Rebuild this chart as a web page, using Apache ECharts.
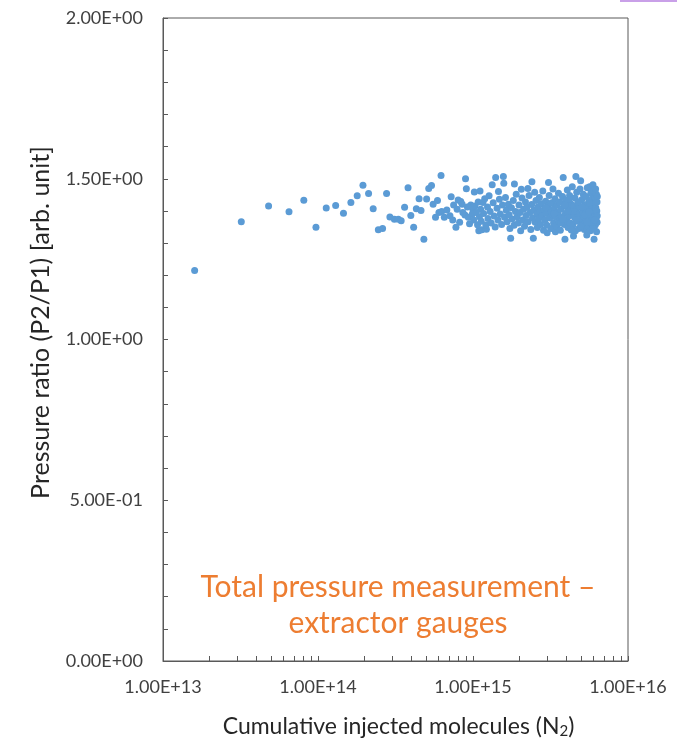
<!DOCTYPE html>
<html>
<head>
<meta charset="utf-8">
<script src="https://cdn.jsdelivr.net/npm/echarts@6/dist/echarts.min.js"></script>
<style>
html,body{margin:0;padding:0;background:#fff;}
#chart{width:677px;height:738px;}
</style>
</head>
<body>
<div id="chart"></div>
<script>
// Sparse / readable points: [cumulative injected molecules, pressure ratio]
const pointsSparse = [
  [1.6e13,1.215],[3.2e13,1.366],[4.8e13,1.415],[6.5e13,1.397],[8.1e13,1.433],[9.7e13,1.349],[1.13e14,1.409],[1.30e14,1.417],[1.46e14,1.393],[1.63e14,1.426],
  [1.79e14,1.447],[1.95e14,1.480],[2.12e14,1.454],[2.27e14,1.407],[2.45e14,1.341],[2.61e14,1.345],[2.77e14,1.454],[2.91e14,1.381],[3.11e14,1.374],[3.30e14,1.374],
  [3.44e14,1.369],[3.62e14,1.411],[3.81e14,1.472],[3.97e14,1.386],[4.14e14,1.349],[4.31e14,1.407],[4.49e14,1.438],[4.62e14,1.401],[4.82e14,1.312],[5.02e14,1.437],
  [5.18e14,1.470],[5.40e14,1.479],[5.53e14,1.421],[5.73e14,1.380],[5.90e14,1.432],[6.22e14,1.510],[6.03e14,1.395],[6.28e14,1.398],[6.53e14,1.380],[6.78e14,1.403],
  [7.23e14,1.444],[7.50e14,1.418],[7.76e14,1.349],[8.02e14,1.434],[8.34e14,1.429],[8.51e14,1.421],[8.95e14,1.500],[9.06e14,1.469],[8.87e14,1.387],[9.33e14,1.380],
  [9.68e14,1.418],[1.00e15,1.403],[1.02e15,1.459],[1.11e15,1.462],[1.16e15,1.426],[1.09e15,1.338],[1.14e15,1.341],[1.22e15,1.343],[1.27e15,1.447],[1.33e15,1.481],
  [1.40e15,1.504],[1.46e15,1.460],[1.57e15,1.507],[1.58e15,1.486],[1.75e15,1.315],[1.85e15,1.484],[2.05e15,1.467],[2.26e15,1.470],[2.40e15,1.491],[2.45e15,1.315],
  [3.01e15,1.332],[3.07e15,1.488],[3.40e15,1.335],[3.82e15,1.504],[3.92e15,1.312],[4.30e15,1.341],[4.45e15,1.322],[4.61e15,1.507],[4.95e15,1.494],[5.42e15,1.325],
  [5.65e15,1.475],[5.94e15,1.481],[6.04e15,1.312]
];
// Dense cloud (estimated)
const pointsCloud = [
  [7.1e14,1.385],[7.4e14,1.372],[7.9e14,1.405],[8.2e14,1.365],[8.6e14,1.395],[9.2e14,1.412],[9.5e14,1.360],[9.9e14,1.390],
  [1.01e15,1.372],[1.03e15,1.415],[1.05e15,1.395],[1.07e15,1.357],[1.08e15,1.428],[1.10e15,1.382],[1.12e15,1.405],[1.13e15,1.368],[1.17e15,1.392],[1.19e15,1.438],
  [1.21e15,1.356],[1.24e15,1.412],[1.25e15,1.376],[1.29e15,1.398],[1.31e15,1.362],[1.35e15,1.425],[1.37e15,1.384],[1.39e15,1.350],[1.43e15,1.408],[1.45e15,1.372],
  [1.48e15,1.436],[1.50e15,1.390],[1.53e15,1.358],[1.55e15,1.418],[1.60e15,1.380],
  [1.62e15,1.442],[1.64e15,1.402],[1.66e15,1.366],[1.69e15,1.421],[1.71e15,1.388],[1.73e15,1.345],[1.77e15,1.410],[1.79e15,1.375],[1.82e15,1.432],[1.84e15,1.355],
  [1.88e15,1.398],[1.90e15,1.452],[1.93e15,1.382],[1.96e15,1.362],[1.98e15,1.418],[2.01e15,1.395],[2.03e15,1.338],[2.07e15,1.440],[2.09e15,1.372],[2.12e15,1.405],
  [2.15e15,1.352],[2.18e15,1.428],[2.20e15,1.386],[2.23e15,1.412],[2.27e15,1.366],[2.30e15,1.448],[2.33e15,1.395],[2.36e15,1.342],[2.39e15,1.420],[2.42e15,1.378],
  [2.47e15,1.402],[2.50e15,1.458],
  [2.52e15,1.365],[2.55e15,1.432],[2.58e15,1.390],[2.60e15,1.348],[2.62e15,1.412],[2.65e15,1.375],[2.68e15,1.442],[2.71e15,1.398],[2.73e15,1.358],[2.76e15,1.422],
  [2.79e15,1.385],[2.82e15,1.462],[2.85e15,1.340],[2.88e15,1.405],[2.91e15,1.372],[2.94e15,1.430],[2.97e15,1.392],[3.00e15,1.355],[3.04e15,1.415],[3.10e15,1.448],
  [3.13e15,1.378],[3.16e15,1.402],[3.19e15,1.345],[3.22e15,1.425],[3.25e15,1.388],[3.28e15,1.468],[3.31e15,1.362],[3.35e15,1.410],[3.38e15,1.438],[3.43e15,1.380],
  [3.46e15,1.352],[3.49e15,1.418],[3.52e15,1.395],[3.56e15,1.455],[3.59e15,1.368],[3.63e15,1.428],[3.66e15,1.340],[3.70e15,1.405],[3.74e15,1.382],[3.78e15,1.445],
  [3.86e15,1.415],[3.89e15,1.358],
  [3.95e15,1.392],[3.99e15,1.432],[4.03e15,1.370],[4.06e15,1.465],[4.10e15,1.348],[4.13e15,1.408],[4.17e15,1.385],[4.20e15,1.448],[4.24e15,1.362],[4.27e15,1.422],
  [4.33e15,1.398],[4.37e15,1.475],[4.40e15,1.355],[4.48e15,1.415],[4.52e15,1.380],[4.55e15,1.440],[4.58e15,1.338],[4.64e15,1.402],[4.67e15,1.458],[4.70e15,1.368],
  [4.74e15,1.425],[4.78e15,1.390],[4.82e15,1.345],[4.86e15,1.412],[4.90e15,1.468],[4.99e15,1.375],[5.03e15,1.435],[5.07e15,1.358],[5.11e15,1.398],[5.15e15,1.452],
  [5.19e15,1.382],[5.23e15,1.342],[5.27e15,1.418],[5.31e15,1.365],[5.35e15,1.445],[5.38e15,1.395],[5.46e15,1.472],[5.50e15,1.352],[5.54e15,1.408],[5.58e15,1.430],
  [5.61e15,1.372],[5.69e15,1.388],[5.72e15,1.338],[5.76e15,1.455],[5.80e15,1.415],[5.84e15,1.362],[5.88e15,1.438],[5.91e15,1.400],[5.98e15,1.378],[6.01e15,1.462],
  [6.05e15,1.348],[6.08e15,1.425],[6.11e15,1.392],[6.14e15,1.442],[6.17e15,1.358],[6.20e15,1.410],[6.22e15,1.375],[6.25e15,1.452],[6.27e15,1.335],[6.29e15,1.400],
  [6.31e15,1.428],[6.32e15,1.365],[6.33e15,1.385],[6.34e15,1.445],
  [3.33e15,1.392],[3.68e15,1.362],[3.92e15,1.418],[4.15e15,1.436],[4.45e15,1.398],[4.62e15,1.372],[4.80e15,1.428],[5.05e15,1.412],[5.25e15,1.388],[5.42e15,1.365],
  [5.65e15,1.425],[5.95e15,1.345],[6.18e15,1.468],[4.35e15,1.340],[4.95e15,1.352],[5.60e15,1.398],[6.10e15,1.372],[3.80e15,1.375],[4.08e15,1.398],[2.95e15,1.410]
];
const xMin = 1e13, xMax = 1e16;
const yMin = 0, yMax = 2, yStep = 0.5;
const xMinorTicks = [];
for (let d = 13; d < 16; d++) for (let k = 1; k <= 9; k++) xMinorTicks.push(Math.log10(k * Math.pow(10, d)));
xMinorTicks.push(16);

function sci(v) {
  if (v === 0) return '0.00E+00';
  let e = Math.floor(Math.log10(Math.abs(v)) + 1e-9);
  let m = v / Math.pow(10, e);
  if (Math.abs(m - Math.round(m)) < 1e-6) m = Math.round(m);
  return m.toFixed(2) + 'E' + (e < 0 ? '-' : '+') + String(Math.abs(e)).padStart(2, '0');
}

const FONT = 'Lato';
const chart = echarts.init(document.getElementById('chart'));
chart.setOption({
  backgroundColor: '#fff',
  animation: false,
  grid: { left: 163, right: 49, top: 18, bottom: 77, show: true, borderColor: '#595959', borderWidth: 1, backgroundColor: 'transparent', containLabel: false, outerBoundsMode: 'none' },
  xAxis: [{
    type: 'log', logBase: 10, min: xMin, max: xMax,
    name: 'Cumulative injected molecules (N{sub|2})',
    nameLocation: 'middle', nameGap: 54,
    nameTextStyle: { fontFamily: FONT, fontSize: 23, color: '#262626', padding: [0,0,0,6],
      rich: { sub: { fontFamily: FONT, fontSize: 15, color: '#262626', verticalAlign: 'bottom', padding: [9,0,0,0] } } },
    axisLine: { show: true, lineStyle: { color: '#595959', width: 1 } },
    axisTick: { show: false },
    splitLine: { show: false },
    minorTick: { show: false },
    axisLabel: { fontFamily: FONT, fontSize: 18, color: '#404040', margin: 17, formatter: v => sci(v) }
  }, {
    type: 'value', min: 13, max: 16, position: 'bottom',
    axisLine: { show: false },
    axisLabel: { show: false },
    splitLine: { show: false },
    axisTick: { show: true, inside: true, length: 5, customValues: xMinorTicks, lineStyle: { color: '#595959' } }
  }],
  yAxis: {
    type: 'value', min: yMin, max: yMax, interval: yStep,
    name: 'Pressure ratio (P2/P1) [arb. unit]',
    nameLocation: 'middle', nameGap: 110,
    nameTextStyle: { fontFamily: FONT, fontSize: 25, color: '#262626', padding: [0,0,0,34] },
    axisLine: { show: true, lineStyle: { color: '#595959', width: 1 } },
    axisTick: { show: true, inside: true, length: 5, lineStyle: { color: '#595959' } },
    minorTick: { show: true, splitNumber: 5, length: 5, lineStyle: { color: '#595959' } },
    splitLine: { show: false },
    axisLabel: { fontFamily: FONT, fontSize: 18, color: '#404040', margin: 20, formatter: v => sci(v) }
  },
  graphic: [
    { type: 'rect', shape: { x: 620, y: 0, width: 57, height: 2 }, style: { fill: '#C9A0E8' } },
    { type: 'text', x: 398, y: 569, style: { text: 'Total pressure measurement –\nextractor gauges', align: 'center', textAlign: 'center', font: '30px Lato', fill: '#ED7D31', lineHeight: 36 } }
  ],
  series: [{
    type: 'scatter', xAxisIndex: 0, yAxisIndex: 0,
    symbolSize: 7,
    itemStyle: { color: '#5B9BD5', opacity: 1 },
    data: pointsSparse.concat(pointsCloud)
  }]
});
</script>
</body>
</html>
